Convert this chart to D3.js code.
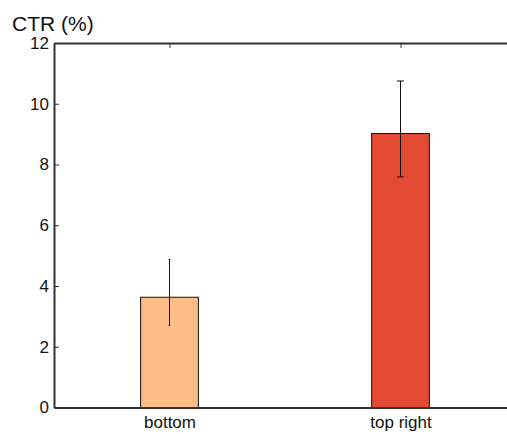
<!DOCTYPE html>
<html>
<head>
<meta charset="utf-8">
<script src="https://cdn.jsdelivr.net/npm/d3@7"></script>
<style>
  body { margin: 0; background: #fff; }
  text { font-family: "Liberation Sans", Arial, sans-serif; fill: #111; }
</style>
</head>
<body>
<svg id="chart" width="507" height="434"></svg>
<script>
  'use strict';

  // data
  var categories = ['bottom', 'top right'];
  var ctr = [3.63, 9.02];
  var errLow = [2.70, 7.59];
  var errHigh = [4.87, 10.75];
  var barColors = ['#fdbd87', '#e34a33'];
  var yTicks = [0, 2, 4, 6, 8, 10, 12];

  var svg = d3.select('#chart');
  var plotLeft = 54, plotTop = 43, plotBottom = 407.5, plotRight = 516;

  var x = d3.scaleLinear().domain([0.5, 2.5]).range([plotLeft, plotRight]);
  var y = d3.scaleLinear().domain([0, 12]).range([plotBottom, plotTop]);
  var barW = x(1.25) - x(1);

  // x axis ticks sit behind the bars
  var xAxis = svg.append('g')
      .attr('transform', 'translate(0,' + plotBottom + ')')
      .call(d3.axisBottom(x).tickValues([1, 2]).tickFormat(function(d) { return categories[d - 1]; })
        .tickSize(-5).tickPadding(8).tickSizeOuter(0));

  // bars
  svg.selectAll('.bar')
      .data(ctr)
      .enter().append('rect')
      .attr('class', 'bar')
      .attr('x', function(d, i) { return x(i + 1) - barW / 2; })
      .attr('y', function(d) { return y(d); })
      .attr('width', barW)
      .attr('height', function(d) { return y(0) - y(d); })
      .style('fill', function(d, i) { return barColors[i]; })
      .style('stroke', '#111')
      .style('stroke-width', 1);

  // error bars
  var capW = [1.5, 7];
  var eb = svg.selectAll('.err')
      .data(ctr)
      .enter().append('g')
      .attr('class', 'err')
      .style('stroke', '#111')
      .style('stroke-width', 1);
  eb.append('line')
      .attr('x1', function(d, i) { return x(i + 1); })
      .attr('x2', function(d, i) { return x(i + 1); })
      .attr('y1', function(d, i) { return y(errLow[i]); })
      .attr('y2', function(d, i) { return y(errHigh[i]); });
  eb.append('line')
      .attr('x1', function(d, i) { return x(i + 1) - capW[i] / 2; })
      .attr('x2', function(d, i) { return x(i + 1) + capW[i] / 2; })
      .attr('y1', function(d, i) { return y(errHigh[i]); })
      .attr('y2', function(d, i) { return y(errHigh[i]); });
  eb.append('line')
      .attr('x1', function(d, i) { return x(i + 1) - capW[i] / 2; })
      .attr('x2', function(d, i) { return x(i + 1) + capW[i] / 2; })
      .attr('y1', function(d, i) { return y(errLow[i]); })
      .attr('y2', function(d, i) { return y(errLow[i]); });

  // other axes
  var yAxis = svg.append('g')
      .attr('transform', 'translate(' + plotLeft + ',0)')
      .call(d3.axisLeft(y).tickValues(yTicks).tickSize(-5).tickPadding(5).tickSizeOuter(0));
  var topAxis = svg.append('g')
      .attr('transform', 'translate(0,' + plotTop + ')')
      .call(d3.axisTop(x).tickValues([1, 2]).tickFormat('').tickSize(-5).tickSizeOuter(0));

  [yAxis, xAxis, topAxis].forEach(function(a) {
    a.selectAll('text').style('font-size', '17px').style('font-family', '"Liberation Sans", Arial, sans-serif').style('fill', '#111');
    a.select('.domain').style('stroke', '#333').style('stroke-width', 2);
    a.selectAll('.tick line').style('stroke', '#333').style('stroke-width', 1);
  });
  // bottom domain line over the bars
  xAxis.raise();
  xAxis.selectAll('.tick line').remove();

  // y label
  svg.append('text')
      .attr('x', 12)
      .attr('y', 31)
      .style('font-size', '21px')
      .text('CTR (%)');
</script>
</body>
</html>
